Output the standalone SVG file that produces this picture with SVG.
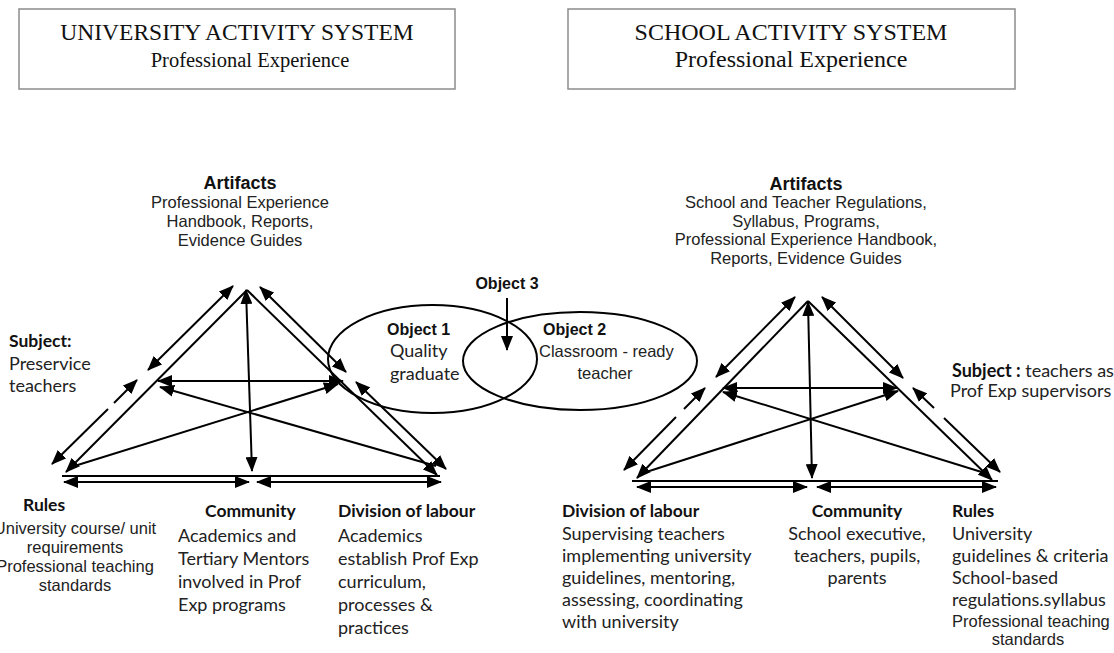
<svg xmlns="http://www.w3.org/2000/svg" width="1114" height="653" viewBox="0 0 1114 653">
<defs>
<marker id="ah" markerUnits="userSpaceOnUse" markerWidth="15" markerHeight="12" viewBox="0 0 15 12" refX="14" refY="6" orient="auto-start-reverse"><path d="M0,0 L15,6 L0,12 z" fill="#000"/></marker>
<style>
.ln{stroke:#000;stroke-width:2;fill:none}
.b{marker-start:url(#ah);marker-end:url(#ah)}
.s{marker-start:url(#ah)}
.e{marker-end:url(#ah)}
.box{fill:#fff;stroke:#8c8c8c;stroke-width:1.5}
.ser{font-family:"Liberation Serif","Times New Roman",serif;fill:#111}
.ar{font-family:"Liberation Sans",Arial,sans-serif;fill:#222;font-size:16.5px}
.arb{font-family:"Liberation Sans",Arial,sans-serif;fill:#111;font-weight:bold}
.cal{font-family:Lato,"Open Sans",sans-serif;fill:#222;font-size:18px}
.calb{font-family:Lato,"Open Sans",sans-serif;fill:#111;font-weight:bold;font-size:17.5px}
.ell{fill:none;stroke:#000;stroke-width:2}
</style>
</defs>

<g id="uni-title">
<rect class="box" x="19" y="9" width="436" height="80"/>
<text class="ser" x="237" y="40" font-size="23.5" text-anchor="middle">UNIVERSITY ACTIVITY SYSTEM</text>
<text class="ser" x="250" y="67" font-size="20.5" text-anchor="middle">Professional Experience</text>
</g>
<g id="school-title">
<rect class="box" x="568" y="9" width="447" height="80"/>
<text class="ser" x="791" y="40" font-size="24" text-anchor="middle">SCHOOL ACTIVITY SYSTEM</text>
<text class="ser" x="791" y="67" font-size="24" text-anchor="middle">Professional Experience</text>
</g>

<g id="objects">
<ellipse class="ell" cx="432.5" cy="359" rx="104.5" ry="54"/>
<ellipse class="ell" cx="580" cy="361" rx="117" ry="49"/>
</g>

<g id="connectors">
<line class="ln b" x1="148" y1="370" x2="233" y2="286"/>
<line class="ln s" x1="52" y1="464" x2="108" y2="409"/>
<line class="ln e" x1="114" y1="403" x2="137" y2="380"/>
<line class="ln s" x1="66" y1="472" x2="247" y2="290"/>
<line class="ln b" x1="260" y1="287" x2="346" y2="372"/>
<line class="ln b" x1="356" y1="382" x2="446" y2="469"/>
<line class="ln e" x1="247" y1="290" x2="437" y2="475"/>
<line class="ln b" x1="246" y1="290" x2="252" y2="471"/>
<line class="ln b" x1="158" y1="381" x2="343" y2="381"/>
<line class="ln e" x1="68" y1="468" x2="338" y2="384"/>
<line class="ln e" x1="436" y1="466" x2="160" y2="387"/>
<line class="ln" x1="62" y1="476" x2="440" y2="476"/>
<line class="ln b" x1="64" y1="482" x2="249" y2="482"/>
<line class="ln b" x1="257" y1="482" x2="441" y2="482"/>
<line class="ln b" x1="716" y1="377" x2="795" y2="297"/>
<line class="ln s" x1="624" y1="470" x2="676" y2="417"/>
<line class="ln e" x1="684" y1="409" x2="705" y2="388"/>
<line class="ln s" x1="637" y1="478" x2="808" y2="301"/>
<line class="ln b" x1="822" y1="297" x2="903" y2="378"/>
<line class="ln s" x1="913" y1="388" x2="934" y2="408"/>
<line class="ln e" x1="944" y1="418" x2="1000" y2="472"/>
<line class="ln e" x1="808" y1="301" x2="992" y2="480"/>
<line class="ln b" x1="808" y1="302" x2="812" y2="478"/>
<line class="ln b" x1="723" y1="388" x2="897" y2="388"/>
<line class="ln e" x1="640" y1="474" x2="898" y2="391"/>
<line class="ln e" x1="988" y1="474" x2="723" y2="392"/>
<line class="ln" x1="632" y1="481" x2="998" y2="481"/>
<line class="ln b" x1="637" y1="487" x2="807" y2="487"/>
<line class="ln b" x1="817" y1="487" x2="996" y2="487"/>
<line class="ln e" x1="507" y1="298" x2="507" y2="350"/>
</g>

<g id="uni-artifacts">
<text class="arb" x="240" y="189" font-size="18" text-anchor="middle">Artifacts</text>
<text class="ar" x="240" y="208" text-anchor="middle">Professional Experience</text>
<text class="ar" x="240" y="227" text-anchor="middle">Handbook, Reports,</text>
<text class="ar" x="240" y="246" text-anchor="middle">Evidence Guides</text>
</g>
<g id="uni-subject">
<text class="calb" x="9" y="347">Subject:</text>
<text class="cal" x="9" y="370">Preservice</text>
<text class="cal" x="9" y="392">teachers</text>
</g>
<g id="uni-rules">
<text class="calb" x="23" y="511">Rules</text>
<text class="ar" x="75" y="534" font-size="16" text-anchor="middle">University course/ unit</text>
<text class="ar" x="75" y="553" font-size="16" text-anchor="middle">requirements</text>
<text class="ar" x="75" y="572" font-size="16" text-anchor="middle">Professional teaching</text>
<text class="ar" x="75" y="591" font-size="16" text-anchor="middle">standards</text>
</g>
<g id="uni-community">
<text class="calb" x="205" y="517">Community</text>
<text class="cal" x="178" y="542">Academics and</text>
<text class="cal" x="178" y="565">Tertiary Mentors</text>
<text class="cal" x="178" y="588">involved in Prof</text>
<text class="cal" x="178" y="611">Exp programs</text>
</g>
<g id="uni-division">
<text class="calb" x="338" y="517">Division of labour</text>
<text class="cal" x="338" y="542">Academics</text>
<text class="cal" x="338" y="565">establish Prof Exp</text>
<text class="cal" x="338" y="588">curriculum,</text>
<text class="cal" x="338" y="611">processes &amp;</text>
<text class="cal" x="338" y="634">practices</text>
</g>

<g id="object1">
<text class="arb" x="387" y="335" font-size="16">Object 1</text>
<text class="cal" x="390" y="357">Quality</text>
<text class="cal" x="390" y="380">graduate</text>
</g>
<g id="object2">
<text class="arb" x="543" y="335" font-size="16">Object 2</text>
<text class="ar" x="539" y="357">Classroom - ready</text>
<text class="ar" x="605" y="379" text-anchor="middle">teacher</text>
</g>
<g id="object3">
<text class="arb" x="507" y="289" font-size="16" text-anchor="middle">Object 3</text>
</g>

<g id="school-artifacts">
<text class="arb" x="806" y="190" font-size="18" text-anchor="middle">Artifacts</text>
<text class="ar" x="806" y="208" text-anchor="middle">School and Teacher Regulations,</text>
<text class="ar" x="806" y="227" text-anchor="middle">Syllabus, Programs,</text>
<text class="ar" x="806" y="245" text-anchor="middle">Professional Experience Handbook,</text>
<text class="ar" x="806" y="264" text-anchor="middle">Reports, Evidence Guides</text>
</g>
<g id="school-subject">
<text class="cal" x="952" y="377"><tspan font-weight="bold" fill="#111">Subject :</tspan> teachers as</text>
<text class="cal" x="950" y="397">Prof Exp supervisors</text>
</g>
<g id="school-division">
<text class="calb" x="562" y="517">Division of labour</text>
<text class="cal" x="562" y="540">Supervising teachers</text>
<text class="cal" x="562" y="562">implementing university</text>
<text class="cal" x="562" y="584">guidelines, mentoring,</text>
<text class="cal" x="562" y="606">assessing, coordinating</text>
<text class="cal" x="562" y="628">with university</text>
</g>
<g id="school-community">
<text class="calb" x="857" y="517" text-anchor="middle">Community</text>
<text class="cal" x="857" y="540" text-anchor="middle">School executive,</text>
<text class="cal" x="857" y="562" text-anchor="middle">teachers, pupils,</text>
<text class="cal" x="857" y="584" text-anchor="middle">parents</text>
</g>
<g id="school-rules">
<text class="calb" x="952" y="517">Rules</text>
<text class="cal" x="952" y="540">University</text>
<text class="cal" x="952" y="562">guidelines &amp; criteria</text>
<text class="cal" x="952" y="584">School-based</text>
<text class="cal" x="952" y="606">regulations.syllabus</text>
<text class="ar" x="952" y="627" font-size="16">Professional teaching</text>
<text class="ar" x="1028" y="645" font-size="16" text-anchor="middle">standards</text>
</g>
</svg>
